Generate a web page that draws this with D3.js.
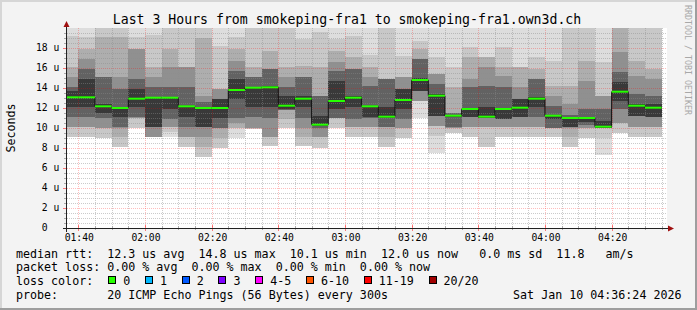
<!DOCTYPE html>
<html><head><meta charset="utf-8">
<script src="https://cdn.jsdelivr.net/npm/d3@7"></script>
<style>
html,body{margin:0;padding:0;background:#f3f3f3;}
svg{display:block;}
text{font-family:"DejaVu Sans Mono",monospace;white-space:pre;}
</style>
</head><body>
<svg id="c" width="697" height="310"></svg>
<script>
// ---------- data ----------
const titleText = "Last 3 Hours from smokeping-fra1 to smokeping-fra1.own3d.ch";
const yAxisTitle = "Seconds";
const watermark = "RRDTOOL / TOBI OETIKER";
const yTickValues = [0, 2, 4, 6, 8, 10, 12, 14, 16, 18];
const xTickLabels = ["01:40", "02:00", "02:20", "02:40", "03:00", "03:20", "03:40", "04:00", "04:20"];
// median rtt (us) per 5-minute step, 01:40 .. 04:35 (bar end times)
const medianRtt = [13.07, 13.07, 12.17, 12.0, 12.93, 13.03, 13.03, 12.17, 12.0, 12.0, 13.8, 14.03,
  14.07, 12.23, 12.93, 10.33, 12.7, 13.03, 12.17, 11.13, 12.8, 14.8, 13.23, 11.23,
  11.9, 11.13, 11.9, 12.03, 12.93, 11.23, 11.0, 11.0, 10.13, 13.63, 12.23, 12.03];
// smoke bands: upper edges (outermost -> innermost)
const smokeHi = [
  [21,19.2,16.1,15.1,14.1,13.7],[21,19.1,17.9,16.9,15.9,14.9],[21,21,19.1,15.1,15.1,12.4],[21,21,19.1,15.1,13.9,12.1],
  [21,19.1,17.9,17.9,14.9,13.9],[21,19.3,16.1,15.1,14.1,13.1],[21,21,17.9,16.1,14.1,13.1],[21,21,16.1,16.1,14.1,12.2],
  [21,21,19.0,13.2,12.6,12.1],[21,18.2,13.9,13.9,12.9,12.9],[21,19.1,17.9,16.7,15.7,14.9],[21,21,16.1,15.1,15.1,14.1],
  [21,21,17.7,15.9,15.9,14.2],[21,21,16.1,15.1,14.1,13.2],[21,18.9,16.2,15.1,15.1,13.2],[21,19.6,16.1,13.2,13.2,11.2],
  [21,18.9,17.7,16.6,15.7,14.7],[21,19.2,17.1,15.9,15.9,13.2],[21,17.3,16.1,15.1,14.2,12.2],[21,21,14.9,14.9,14.9,12.1],
  [21,17.2,15.1,15.1,13.9,13.9],[21,18.7,17.9,16.9,16.9,15.0],[21,17.1,15.4,15.4,14.4,13.4],[21,16.1,14.1,11.5,11.5,11.3],
  [21,18.1,17.1,14.9,14.1,12.0],[21,17.1,17.1,16.1,14.2,12.1],[21,18.1,16.1,15.2,14.1,11.9],[21,16.1,16.1,14.1,12.9,12.9],
  [21,17.1,15.9,14.9,14.9,13.1],[21,16.7,14.2,13.2,12.2,11.3],[21,21,14.2,12.4,11.3,11.1],[21,21,16.7,14.7,11.9,11.1],
  [21,16.6,13.2,13.2,11.9,10.7],[21,21,21,17.6,15.6,14.6],[21,21,16.7,15.2,13.4,12.4],[21,21,15.9,14.9,13.2,12.4]
];
// smoke bands: lower edges (outermost -> innermost)
const smokeLo = [
  [9.1,9.1,10.1,10.1,11.1,12.1],[9.1,9.1,10.1,10.1,11.1,12.1],[9.0,9.0,10.0,10.0,11.0,11.5],[8.1,8.1,9.1,10.0,10.1,11.1],
  [10.0,10.0,11.0,11.0,11.1,12.1],[9.1,9.1,9.1,9.1,10.1,10.1],[9.1,9.6,10.1,10.1,10.9,11.9],[8.1,8.1,9.1,9.1,10.1,11.1],
  [7.1,7.1,8.1,9.1,10.1,10.1],[8.0,8.0,9.0,10.0,10.0,11.0],[9.0,10.0,10.0,10.5,11.0,12.9],[9.9,9.9,10.0,10.0,11.1,12.1],
  [8.2,8.2,9.1,9.1,11.0,12.1],[10.0,10.0,10.9,11.8,11.8,11.9],[8.2,8.2,9.1,10.0,11.0,12.1],[8.0,8.0,9.1,9.1,10.0,10.2],
  [10.0,10.0,11.0,11.0,11.0,11.9],[9.1,9.1,10.1,10.1,10.9,12.1],[9.1,9.1,10.1,10.1,11.0,11.1],[8.1,8.1,9.1,10.1,10.1,11.0],
  [9.0,9.0,10.0,10.0,10.9,11.9],[11.0,12.7,12.7,12.7,13.7,13.7],[7.5,9.2,10.2,10.2,11.2,11.2],[9.5,9.5,10.0,10.0,10.1,11.1],
  [9.1,9.1,10.1,10.1,11.1,11.1],[8.1,8.1,10.1,10.1,11.0,11.0],[9.1,9.1,10.1,10.1,10.9,10.9],[9.1,9.1,10.1,10.1,11.1,11.1],
  [9.1,9.1,10.1,10.1,11.1,12.1],[9.1,9.1,10.0,10.0,10.0,10.9],[8.1,8.1,9.1,10.0,10.1,10.1],[9.0,9.0,10.0,10.0,10.3,10.6],
  [7.3,9.0,10.0,10.0,10.0,10.0],[9.5,9.5,10.5,10.5,11.9,12.7],[9.1,9.1,10.1,10.1,11.2,11.2],[9.1,9.1,10.1,10.1,11.1,11.1]
];
const rttStats = ["12.3", "14.8", "10.1", "12.0", " 0.0", "11.8"];
const lossStats = ["0.00", "0.00", "0.00", "0.00"];
const lossLabels = ["0", "1", "2", "3", "4-5", "6-10", "11-19", "20/20"];
const lossColors = ["#26ff00", "#00b8ff", "#0059ff", "#7e00ff", "#ff00ff", "#ff5500", "#ff0000", "#a10000"];
const probeText = "20 ICMP Echo Pings (56 Bytes) every 300s";
const dateText = "Sat Jan 10 04:36:24 2026";

// ---------- layout ----------
const svg = d3.select("#c");
const W = 697, H = 310;
const PL = 67, PR = 667, PT = 28, PB = 228;
const T = (h, m, s = 0) => new Date(2026, 0, 10, h, m, s);
const tStart = T(1, 36, 24), tEnd = T(4, 36, 24);
const x = d3.scaleTime().domain([tStart, tEnd]).range([66.3, 666.3]);
const y = d3.scaleLinear().domain([0, 20]).range([PB, PT]);
const bandColors = ["#dddddd", "#c8c8c8", "#aeaeae", "#909090", "#626262", "#393939"];
const axisFont = "9.7px", legFont = "11.67px";

svg.append("rect").attr("width", W).attr("height", H).attr("fill", "#f3f3f3");
// shade border
svg.append("path").attr("d", `M0,${H} V0 H${W}`).attr("fill", "none").attr("stroke", "#d6d6d6").attr("stroke-width", 4);
svg.append("path").attr("d", `M0,${H} H${W} V0`).attr("fill", "none").attr("stroke", "#9e9e9e").attr("stroke-width", 4);
// canvas
svg.append("rect").attr("x", PL).attr("y", PT).attr("width", PR - PL).attr("height", PB - PT).attr("fill", "#ffffff");

// bars
const barEnds = d3.timeMinute.every(5).range(T(1, 40), T(4, 40));
const bars = barEnds.map((e, i) => ({
  x0: Math.max(x(d3.timeMinute.offset(e, -5)), 66.3),
  x1: x(e), med: medianRtt[i], hi: smokeHi[i], lo: smokeLo[i]
}));
const clipV = v => Math.max(0, Math.min(20, v));
const gSmoke = svg.append("g").attr("shape-rendering", "crispEdges");
bars.forEach(b => {
  b.hi.forEach((h, k) => {
    const yt = y(clipV(h)), yb = y(clipV(b.lo[k]));
    gSmoke.append("rect").attr("x", b.x0).attr("width", b.x1 - b.x0)
      .attr("y", yt).attr("height", Math.max(0, yb - yt)).attr("fill", bandColors[k]);
  });
});

// grid
const gGrid = svg.append("g").attr("shape-rendering", "crispEdges");
const minorCol = "rgba(140,140,140,0.45)", majorCol = "rgba(255,0,0,0.26)";
d3.range(0.5, 20, 0.5).filter(v => v % 2 !== 0).forEach(v => {
  const yy = Math.round(y(v)) + 0.5;
  gGrid.append("line").attr("x1", PL).attr("x2", PR).attr("y1", yy).attr("y2", yy)
    .attr("stroke", minorCol).attr("stroke-dasharray", "1,1");
});
yTickValues.filter(v => v > 0).forEach(v => {
  const yy = Math.round(y(v)) + 0.5;
  gGrid.append("line").attr("x1", PL).attr("x2", PR).attr("y1", yy).attr("y2", yy)
    .attr("stroke", majorCol).attr("stroke-dasharray", "1,1");
});
const minorTimes = d3.timeMinute.every(5).range(tStart, tEnd);
const majorTimes = xTickLabels.map(s => { const [h, m] = s.split(":").map(Number); return T(h, m); });
minorTimes.filter(t => t.getMinutes() % 20 !== 0).forEach(t => {
  const xx = Math.round(x(t)) + 0.5;
  gGrid.append("line").attr("x1", xx).attr("x2", xx).attr("y1", PT).attr("y2", PB)
    .attr("stroke", minorCol).attr("stroke-dasharray", "1,1");
});
majorTimes.forEach(t => {
  const xx = Math.round(x(t)) + 0.5;
  gGrid.append("line").attr("x1", xx).attr("x2", xx).attr("y1", PT).attr("y2", PB)
    .attr("stroke", majorCol).attr("stroke-dasharray", "1,1");
});

// median line (black steps + green segments)
const stepPts = bars.map(b => [b.x0, y(b.med)]);
stepPts.push([bars[bars.length - 1].x1, y(bars[bars.length - 1].med)]);
svg.append("path").attr("d", d3.line().curve(d3.curveStepAfter)(stepPts))
  .attr("fill", "none").attr("stroke", "#111").attr("stroke-width", 1);
svg.append("g").selectAll("line").data(bars).join("line")
  .attr("x1", d => d.x0).attr("x2", d => d.x1)
  .attr("y1", d => y(d.med)).attr("y2", d => y(d.med))
  .attr("stroke", lossColors[0]).attr("stroke-width", 2);

// axes
const gAx = svg.append("g").attr("shape-rendering", "crispEdges");
minorTimes.forEach(t => {
  const xx = Math.round(x(t)) + 0.5;
  const maj = t.getMinutes() % 20 === 0;
  gAx.append("line").attr("x1", xx).attr("x2", xx).attr("y1", maj ? 225 : 226).attr("y2", maj ? 231 : 230)
    .attr("stroke", maj ? "rgba(255,0,0,0.5)" : "#aaa");
});
d3.range(0.5, 20, 0.5).forEach(v => {
  const yy = Math.round(y(v)) + 0.5;
  const maj = v % 2 === 0;
  gAx.append("line").attr("x1", maj ? 63 : 64).attr("x2", 67).attr("y1", yy).attr("y2", yy)
    .attr("stroke", maj ? "rgba(255,0,0,0.5)" : "#aaa");
});
gAx.append("line").attr("x1", 63).attr("x2", 669).attr("y1", 228.5).attr("y2", 228.5).attr("stroke", "#222");
gAx.append("line").attr("x1", 66.5).attr("x2", 66.5).attr("y1", 232).attr("y2", 25).attr("stroke", "#222");
svg.append("path").attr("d", "M66.5,21 L63.5,27 L69.5,27 Z").attr("fill", "#a01010");
svg.append("path").attr("d", "M674,228.5 L668,225.5 L668,231.5 Z").attr("fill", "#a01010");

// axis labels
svg.append("g").selectAll("text").data(yTickValues).join("text")
  .attr("x", 36).attr("y", d => y(d) + 3.3)
  .attr("xml:space", "preserve")
  .style("font-size", axisFont).attr("fill", "#000")
  .text(d => d === 0 ? " 0  " : (d < 10 ? " " : "") + d + " u");
svg.append("g").selectAll("text").data(majorTimes).join("text")
  .attr("x", d => x(d) + 1).attr("y", 241.3).attr("text-anchor", "middle")
  .style("font-size", axisFont).attr("fill", "#000")
  .text((d, i) => xTickLabels[i]);

// titles
svg.append("text").attr("x", 347).attr("y", 23.5).attr("text-anchor", "middle")
  .style("font-size", "13.2px").attr("fill", "#000").text(titleText);
svg.append("text").attr("transform", "translate(15.3,128) rotate(-90)").attr("text-anchor", "middle")
  .style("font-size", legFont).attr("fill", "#000").text(yAxisTitle);
svg.append("text").attr("transform", "translate(685,5) rotate(90)")
  .style("font-size", "8.3px").attr("fill", "#a8a8a8").text(watermark);

// legend
const LX = 16;
const rows = [257.6, 271.4, 285.2, 299.0];
const leg = (txt, xx, yy, anchor) => svg.append("text").attr("x", xx).attr("y", yy)
  .attr("xml:space", "preserve").attr("text-anchor", anchor || "start")
  .style("font-size", legFont).attr("fill", "#000").text(txt);
leg(`median rtt:  ${rttStats[0]} us avg  ${rttStats[1]} us max  ${rttStats[2]} us min  ${rttStats[3]} us now  ${rttStats[4]} ms sd  ${rttStats[5]}   am/s`, LX, rows[0]);
leg(`packet loss: ${lossStats[0]} % avg  ${lossStats[1]} % max  ${lossStats[2]} % min  ${lossStats[3]} % now`, LX, rows[1]);
leg("loss color:", LX, rows[2]);
let bx = 108.3;
lossLabels.forEach((lab, i) => {
  svg.append("rect").attr("x", Math.round(bx) + 0.5).attr("y", 276.5).attr("width", 7).attr("height", 7)
    .attr("fill", lossColors[i]).attr("stroke", "#000").attr("stroke-width", 1);
  const t = leg(lab, bx + 15, rows[2]);
  bx = bx + 15 + t.node().getComputedTextLength() + 14.7;
});
leg("probe:       " + probeText, LX, rows[3]);
leg(dateText, 681.5, rows[3], "end");
</script>
</body></html>
